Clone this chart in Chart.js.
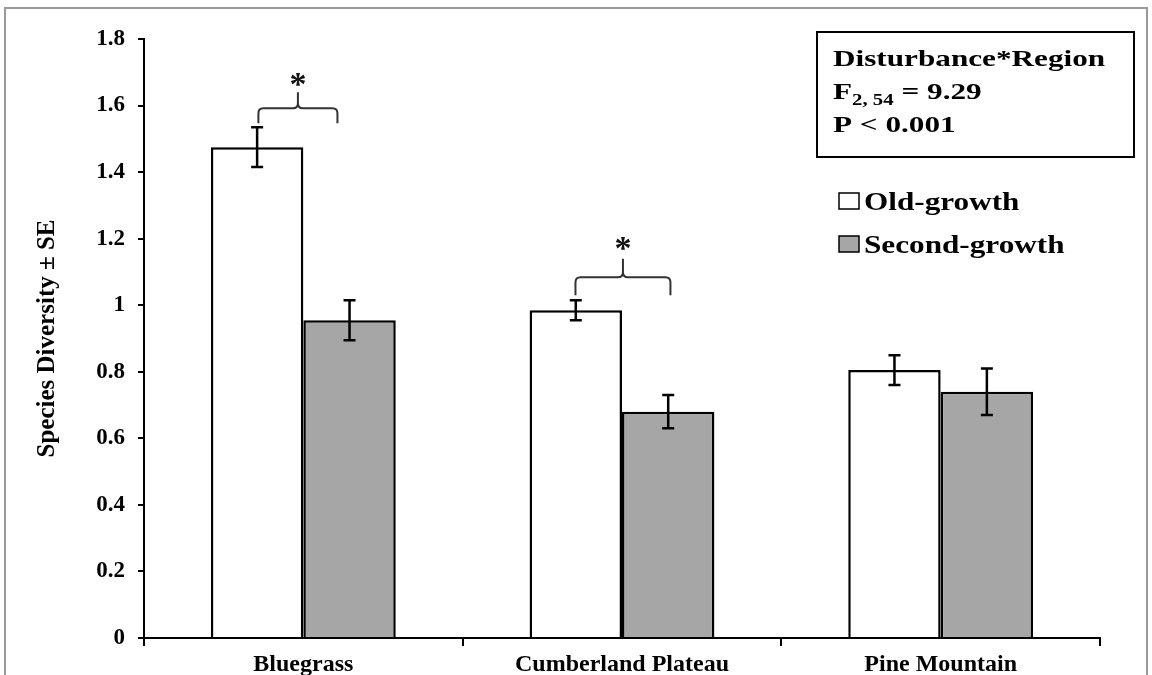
<!DOCTYPE html>
<html>
<head>
<meta charset="utf-8">
<script src="https://cdn.jsdelivr.net/npm/chart.js@4.4.1/dist/chart.umd.min.js"></script>
<style>
html,body{margin:0;padding:0;background:#fff;}
#wrap{position:relative;width:1152px;height:675px;overflow:hidden;}
</style>
</head>
<body>
<div id="wrap"><canvas id="c" width="1152" height="675"></canvas></div>
<script>
// ---- data ----
const regions = ["Bluegrass", "Cumberland Plateau", "Pine Mountain"];
const oldGrowth = [1.475, 0.985, 0.805];
const oldGrowthSE = [0.06, 0.03, 0.045];
const secondGrowth = [0.955, 0.68, 0.74];
const secondGrowthSE = [0.06, 0.05, 0.07];
const yTicks = [0, 0.2, 0.4, 0.6, 0.8, 1, 1.2, 1.4, 1.6, 1.8];
const seriesNames = ["Old-growth", "Second-growth"];
const statTitle = "Disturbance*Region";
const statF = ["F", "2, 54", " = 9.29"];
const statP = "P < 0.001";

const SERIF = '"Liberation Serif", "Times New Roman", serif';
const GRAY = '#a6a6a6';

const errorBars = {
  id: 'errorBars',
  afterDatasetsDraw(chart) {
    const ctx = chart.ctx, ys = chart.scales.y;
    const ses = [oldGrowthSE, secondGrowthSE];
    chart.data.datasets.forEach((ds, di) => {
      const meta = chart.getDatasetMeta(di);
      meta.data.forEach((bar, i) => {
        const v = ds.data[i], se = ses[di][i];
        const t = ys.getPixelForValue(v + se), b = ys.getPixelForValue(v - se);
        ctx.save();
        ctx.strokeStyle = '#000'; ctx.lineWidth = 2.5;
        ctx.beginPath();
        ctx.moveTo(bar.x, t); ctx.lineTo(bar.x, b);
        ctx.moveTo(bar.x - 6, t); ctx.lineTo(bar.x + 6, t);
        ctx.moveTo(bar.x - 6, b); ctx.lineTo(bar.x + 6, b);
        ctx.stroke();
        ctx.restore();
      });
    });
  }
};

// significance brackets: category index, left/right as fraction of category width from center, y levels
const brackets = [
  {cat: 0, l: -0.141, r: 0.107, yEnd: 1.547, yBar: 1.592, yNub: 1.64, yStar: 1.68},
  {cat: 1, l: -0.146, r: 0.152, yEnd: 1.03, yBar: 1.084, yNub: 1.14, yStar: 1.185}
];

function stretchText(ctx, text, x, y, sx) {
  ctx.save();
  ctx.translate(x, y);
  ctx.scale(sx, 1);
  ctx.fillText(text, 0, 0);
  ctx.restore();
  return ctx.measureText(text).width * sx;
}

const annotations = {
  id: 'annotations',
  afterDraw(chart) {
    const ctx = chart.ctx, xs = chart.scales.x, ys = chart.scales.y;
    const cw = (xs.right - xs.left) / regions.length;
    ctx.save();
    // outer frame
    ctx.strokeStyle = '#9a9a9a'; ctx.lineWidth = 2;
    ctx.strokeRect(5, 8, 1142, 700);
    // brackets
    ctx.strokeStyle = '#333'; ctx.lineWidth = 2;
    brackets.forEach(bk => {
      const c = xs.getPixelForValue(bk.cat);
      const x1 = c + bk.l * cw, x2 = c + bk.r * cw, xm = (x1 + x2) / 2;
      const ye = ys.getPixelForValue(bk.yEnd), yb = ys.getPixelForValue(bk.yBar), yn = ys.getPixelForValue(bk.yNub);
      const r = 5;
      ctx.beginPath();
      ctx.moveTo(x1, ye);
      ctx.lineTo(x1, yb + r);
      ctx.quadraticCurveTo(x1, yb, x1 + r, yb);
      ctx.lineTo(xm - r, yb);
      ctx.quadraticCurveTo(xm, yb, xm, yb - r);
      ctx.lineTo(xm, yn);
      ctx.moveTo(xm, yb - r);
      ctx.quadraticCurveTo(xm, yb, xm + r, yb);
      ctx.lineTo(x2 - r, yb);
      ctx.quadraticCurveTo(x2, yb, x2, yb + r);
      ctx.lineTo(x2, ye);
      ctx.stroke();
      ctx.fillStyle = '#111';
      ctx.font = 'bold 34px ' + SERIF;
      ctx.textAlign = 'center'; ctx.textBaseline = 'middle';
      ctx.fillText('*', xm, ys.getPixelForValue(bk.yStar) + 7);
    });
    // stats box
    ctx.strokeStyle = '#000'; ctx.lineWidth = 2;
    ctx.strokeRect(817, 32, 317, 125);
    ctx.fillStyle = '#000';
    ctx.textAlign = 'left'; ctx.textBaseline = 'alphabetic';
    const SX = 1.3;
    ctx.font = 'bold 24px ' + SERIF;
    stretchText(ctx, statTitle, 833, 66, SX);
    let x = 833 + stretchText(ctx, statF[0], 833, 99, SX);
    ctx.font = 'bold 16px ' + SERIF;
    x += stretchText(ctx, statF[1], x, 105, SX);
    ctx.font = 'bold 24px ' + SERIF;
    stretchText(ctx, statF[2], x, 99, SX);
    stretchText(ctx, statP, 833, 132, SX);
    // legend
    const fills = ['#ffffff', GRAY];
    const ly = [210, 253];
    ctx.font = 'bold 26px ' + SERIF;
    seriesNames.forEach((n, i) => {
      ctx.fillStyle = fills[i];
      ctx.fillRect(839, ly[i] - 17, 20, 16);
      ctx.strokeStyle = '#000'; ctx.lineWidth = 1.5;
      ctx.strokeRect(839, ly[i] - 17, 20, 16);
      ctx.fillStyle = '#000';
      stretchText(ctx, n, 864, ly[i], 1.2);
    });
    ctx.restore();
  }
};

new Chart(document.getElementById('c'), {
  type: 'bar',
  data: {
    labels: regions,
    datasets: [
      {label: seriesNames[0], data: oldGrowth, backgroundColor: '#ffffff', borderColor: '#000', borderWidth: 2.5, borderSkipped: 'bottom'},
      {label: seriesNames[1], data: secondGrowth, backgroundColor: GRAY, borderColor: '#000', borderWidth: 2.5, borderSkipped: 'bottom'}
    ]
  },
  options: {
    responsive: false,
    animation: false,
    devicePixelRatio: 1,
    layout: {padding: {left: 0, top: 39, right: 52, bottom: 0}},
    plugins: {legend: {display: false}, tooltip: {enabled: false}},
    datasets: {bar: {categoryPercentage: 0.58, barPercentage: 1}},
    scales: {
      x: {
        afterFit: s => { s.height = 37; },
        grid: {display: true, offset: true, drawOnChartArea: false, drawTicks: true, tickLength: 8, color: '#000', lineWidth: 2},
        border: {display: true, color: '#000', width: 2},
        ticks: {color: '#000', font: {family: SERIF, size: 24, weight: 'bold'}, padding: 4, maxRotation: 0, autoSkip: false}
      },
      y: {
        min: 0, max: 1.8,
        afterFit: s => { s.width = 144; },
        afterBuildTicks: s => { s.ticks = yTicks.map(v => ({value: v})); },
        grid: {display: true, drawOnChartArea: false, drawTicks: true, tickLength: 6, color: '#000', lineWidth: 2},
        border: {display: true, color: '#000', width: 2},
        ticks: {color: '#000', font: {family: SERIF, size: 23, weight: 'bold'}, padding: 13, callback: v => String(Math.round(v * 10) / 10)},
        title: {display: true, text: 'Species Diversity ± SE', color: '#000', font: {family: SERIF, size: 25, weight: 'bold'}, padding: {top: 33, bottom: 0}}
      }
    }
  },
  plugins: [errorBars, annotations]
});
</script>
</body>
</html>
